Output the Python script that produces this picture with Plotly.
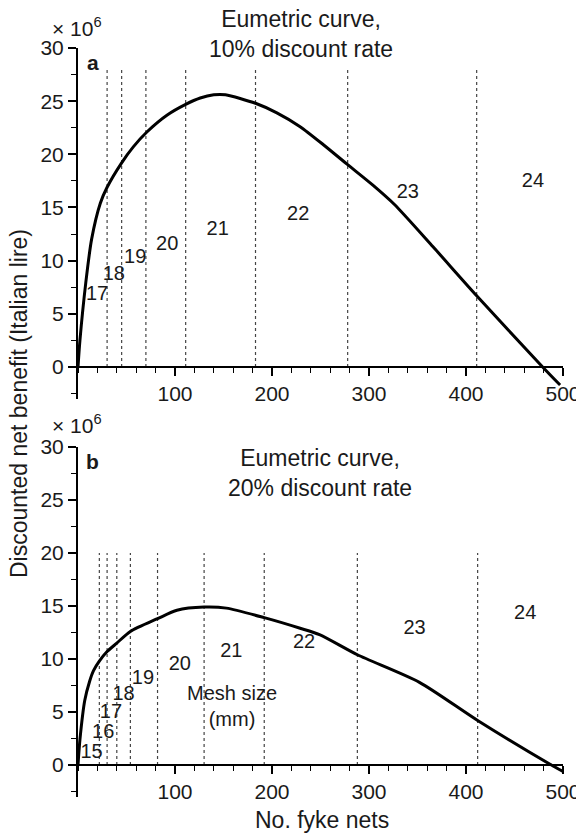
import plotly.graph_objects as go

# ---- data ----
top_x = [0, 2, 8, 14, 23, 30, 45, 57, 71, 92, 111, 126, 140, 152, 183, 205, 229, 253, 277, 304, 326, 366, 411, 479, 497]
top_y = [0, 2.5, 7.9, 12.0, 15.4, 16.9, 19.2, 20.7, 22.1, 23.7, 24.7, 25.3, 25.6, 25.6, 24.8, 23.9, 22.6, 20.9,
         19.1, 17.1, 15.3, 11.3, 6.7, 0, -1.7]

bot_x = [0, 2, 7, 12, 16, 22, 30, 40, 54, 82, 102, 130, 153, 192, 229, 249, 288, 352, 412, 488, 500]
bot_y = [0, 2.4, 6.1, 7.9, 8.9, 9.8, 10.7, 11.5, 12.6, 13.8, 14.6, 14.9, 14.8, 13.9, 12.9, 12.3, 10.4, 7.8, 4.2,
         0, -0.6]

top_mesh_x = [30, 45, 70, 111, 183, 278, 411]
top_mesh_top = 28
bot_mesh_x = [22, 30, 40, 54, 82, 130, 192, 288, 412]
bot_mesh_top = 20

top_lab = ["17", "18", "19", "20", "21", "22", "23", "24"]
top_lab_x = [19.6, 37, 59, 92, 144, 227, 340, 469]
top_lab_y = [6.8, 8.6, 10.2, 11.5, 12.9, 14.3, 16.4, 17.4]

bot_lab = ["15", "16", "17", "18", "19", "20", "21", "22", "23", "24"]
bot_lab_x = [14, 26, 34, 47, 67, 105, 158, 233, 347, 461]
bot_lab_y = [1.1, 3.0, 4.9, 6.6, 8.1, 9.4, 10.7, 11.5, 12.8, 14.2]

x_ticks = [100, 200, 300, 400, 500]
y_ticks = [0, 5, 10, 15, 20, 25, 30]

FONT = "Liberation Sans, Arial, Helvetica, sans-serif"
INK = "#1a1a1a"

# page body has an 8px margin: shrink the figure so it fits the 584x833 window
OFF = 8
W, H = 584 - OFF, 833 - OFF


def xp(px):
    return (px - OFF) / W


def yp(py):
    return 1 - (py - OFF) / H


def vlines(xs, top):
    xx, yy = [], []
    for v in xs:
        xx += [v, v, None]
        yy += [0, top, None]
    return xx, yy


fig = go.Figure()

for (cx, cy, mx, mtop, lt, lx, ly, xa, ya) in [
    (top_x, top_y, top_mesh_x, top_mesh_top, top_lab, top_lab_x, top_lab_y, "x", "y"),
    (bot_x, bot_y, bot_mesh_x, bot_mesh_top, bot_lab, bot_lab_x, bot_lab_y, "x2", "y2"),
]:
    vx, vy = vlines(mx, mtop)
    fig.add_trace(go.Scatter(x=vx, y=vy, mode="lines", xaxis=xa, yaxis=ya,
                             line=dict(color="#444444", width=1.2, dash="dot"),
                             hoverinfo="skip", showlegend=False))
    fig.add_trace(go.Scatter(x=cx, y=cy, mode="lines", xaxis=xa, yaxis=ya,
                             line=dict(color="black", width=3, shape="spline", smoothing=0.7),
                             showlegend=False))
    fig.add_trace(go.Scatter(x=lx, y=ly, text=lt, mode="text", xaxis=xa, yaxis=ya,
                             textposition="middle center",
                             textfont=dict(family=FONT, size=20, color=INK),
                             hoverinfo="skip", showlegend=False))


def xaxis_cfg(pos):
    return dict(range=[0, 500], domain=[xp(78), xp(563)], anchor="free",
                position=pos, showline=True, linecolor="black", linewidth=2,
                tickvals=x_ticks, ticks="outside", ticklen=8, tickwidth=1.5, tickcolor="black",
                minor=dict(dtick=20, tick0=0, ticks="outside", ticklen=5, tickwidth=1.2, tickcolor="black"),
                showgrid=False, zeroline=False, automargin=False,
                tickfont=dict(family=FONT, size=21, color=INK))


def yaxis_cfg(dom, anchor_x):
    return dict(range=[-3, 30], domain=dom, anchor=anchor_x, showline=True, linecolor="black",
                linewidth=2, tickvals=y_ticks, ticks="outside", ticklen=8, tickwidth=1.5,
                tickcolor="black",
                minor=dict(dtick=2.5, tick0=0, ticks="outside", ticklen=5, tickwidth=1.2, tickcolor="black"),
                showgrid=False, zeroline=False, automargin=False,
                tickfont=dict(family=FONT, size=21, color=INK))


top_dom = [yp(398.8), yp(48)]
bot_dom = [yp(796.8), yp(447)]

xa1 = xaxis_cfg(yp(367))
xa2 = xaxis_cfg(yp(765))
ya1 = yaxis_cfg(top_dom, "x")
ya2 = yaxis_cfg(bot_dom, "x2")


def ann(text, x, y, size, xref="paper", yref="paper", **kw):
    return dict(text=text, x=x, y=y, xref=xref, yref=yref, showarrow=False,
                xanchor="center", yanchor="middle",
                font=dict(family=FONT, size=size, color=INK), **kw)


annotations = [
    ann("Eumetric curve,<br>10% discount rate", xp(301), yp(34), 23),
    ann("Eumetric curve,<br>20% discount rate", xp(320), yp(473), 23),
    ann("<b>a</b>", 15, 28.6, 21, xref="x", yref="y"),
    ann("<b>b</b>", 15, 28.6, 21, xref="x2", yref="y2"),
    ann("Mesh size<br>(mm)", 159, 5.6, 20, xref="x2", yref="y2"),
    ann("× 10<sup>6</sup>", xp(77), yp(27), 21),
    ann("× 10<sup>6</sup>", xp(77), yp(424), 21),
    ann("Discounted net benefit (Italian lire)", xp(19), yp(404), 23, textangle=-90),
    ann("No. fyke nets", xp(322), yp(820), 23),
]

fig.update_layout(
    width=W, height=H, margin=dict(l=0, r=0, t=0, b=0, autoexpand=False),
    paper_bgcolor="white", plot_bgcolor="rgba(0,0,0,0)",
    xaxis=xa1, yaxis=ya1, xaxis2=xa2, yaxis2=ya2,
    annotations=annotations, showlegend=False,
    font=dict(family=FONT, color=INK),
)

fig.write_html("out.html")
